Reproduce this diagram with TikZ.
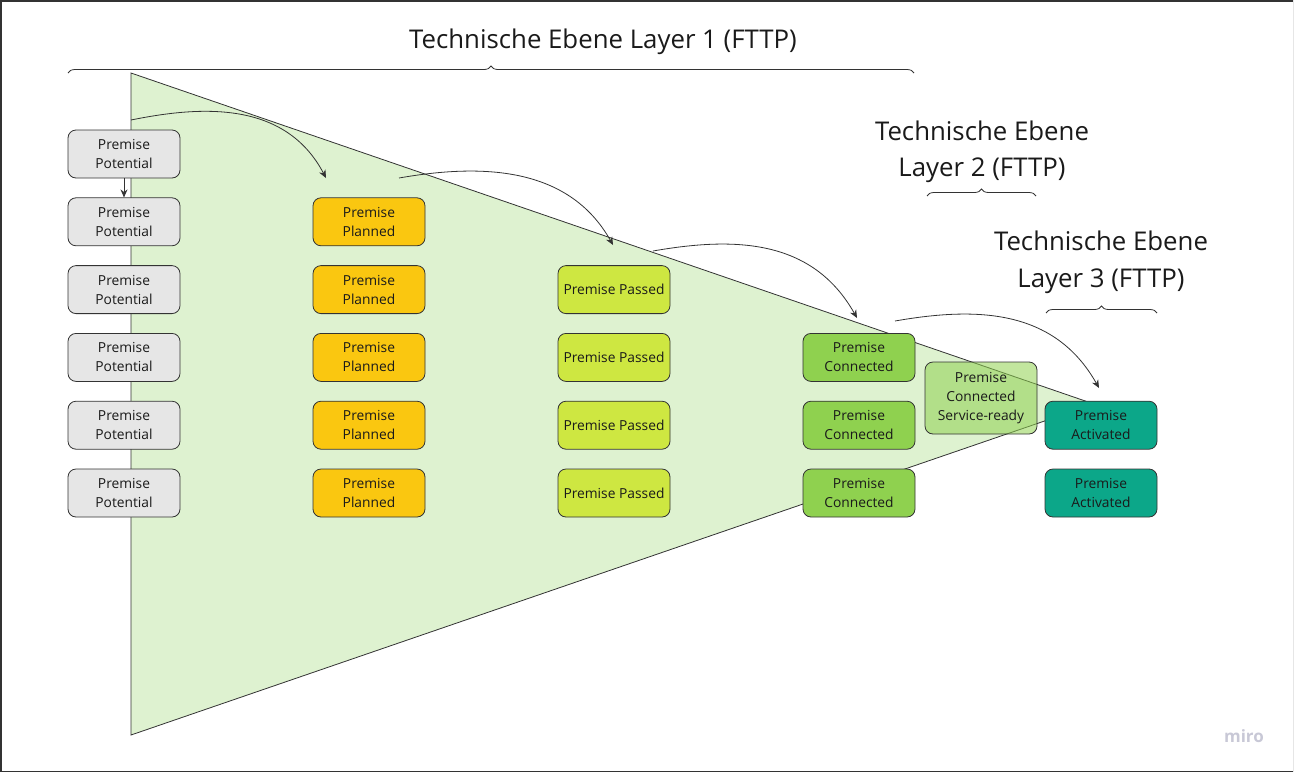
\documentclass[tikz,border=0pt]{standalone}
\usepackage{fontspec}
\setmainfont{Open Sans}
\usetikzlibrary{shapes,arrows.meta,positioning,decorations.pathreplacing}
\definecolor{potgray}{HTML}{E6E6E6}
\definecolor{plannedyellow}{HTML}{FAC710}
\definecolor{passedlime}{HTML}{CEE741}
\definecolor{connectedgreen}{HTML}{8FD14F}
\definecolor{activatedteal}{HTML}{0CA789}
\definecolor{funnelgreen}{HTML}{DEF2D0}
\definecolor{linedark}{HTML}{333333}
\definecolor{txtdark}{HTML}{1A1A1A}
\definecolor{mirogray}{HTML}{C8C8D6}
\def\Prem{Premise}

\begin{document}
\begin{tikzpicture}[x=1pt,y=-1pt,% pixel grid, y downwards
      every node/.style={
        align=center,     % so that "\\" works inside the boxes
        text=txtdark,
        font=\fontsize{13.8}{19}\selectfont
      },
      box/.style={rectangle,rounded corners=8pt,draw=linedark,line width=0.8pt,
        minimum width=112pt,minimum height=48pt,inner sep=0pt},
      potential/.style={box,fill=potgray},
      planned/.style={box,fill=plannedyellow},
      passed/.style={box,fill=passedlime},
      connected/.style={box,fill=connectedgreen},
      serviceready/.style={box,fill=connectedgreen,fill opacity=0.55,text opacity=1,
        minimum height=72pt},
      activated/.style={box,fill=activatedteal},
      layertitle/.style={font=\fontsize{25.8}{36.5}\selectfont},
      layerbrace/.style={draw=linedark,line width=0.8pt,
        decorate,decoration={brace,amplitude=7pt}},
      flow/.style={draw=linedark,line width=0.8pt,-{Stealth[length=8pt,width=7pt]}},
      node distance=19pt and 132.2pt
    ]
    \useasboundingbox (0,0) rectangle (1294,772);
    % frame
    \draw[linedark,line width=1.5pt] (0,0.75) -- (1294,0.75);
    \draw[linedark,line width=1.5pt] (0.75,0) -- (0.75,772);
    \draw[linedark,line width=1.5pt] (0,771.25) -- (1294,771.25);
    \draw[potgray,line width=1.5pt] (1293.25,0) -- (1293.25,772);

    % funnel
    \draw[fill=funnelgreen,draw=linedark,line width=0.8pt]
      (131,73) -- (1094,404) -- (131,735) -- cycle;

    % premise potential
    \node[potential](P1) at (124,154){\Prem\\Potential};
    \node[potential](P2)[below= of P1]{\Prem\\Potential};
    \node[potential](P3)[below= of P2]{\Prem\\Potential};
    \node[potential](P4)[below= of P3]{\Prem\\Potential};
    \node[potential](P5)[below= of P4]{\Prem\\Potential};
    \node[potential](P6)[below= of P5]{\Prem\\Potential};
    % premise planned
    \node[planned](L2)[right= of P2]{\Prem\\Planned};
    \node[planned](L3)[right= of P3]{\Prem\\Planned};
    \node[planned](L4)[right= of P4]{\Prem\\Planned};
    \node[planned](L5)[right= of P5]{\Prem\\Planned};
    \node[planned](L6)[right= of P6]{\Prem\\Planned};
    % premise passed
    \node[passed](S3)[right= of L3]{\Prem{} Passed};
    \node[passed](S4)[right= of L4]{\Prem{} Passed};
    \node[passed](S5)[right= of L5]{\Prem{} Passed};
    \node[passed](S6)[right= of L6]{\Prem{} Passed};
    % premise connected
    \node[connected](C4)[right= of S4]{\Prem\\Connected};
    \node[connected](C5)[right= of S5]{\Prem\\Connected};
    \node[connected](C6)[right= of S6]{\Prem\\Connected};
    \node[serviceready](CS) at (981,398){\Prem\\Connected\\Service-ready};
    % premise activated
    \node[activated](A5)[right=129.2pt of C5]{\Prem\\Activated};
    \node[activated](A6)[right=129.2pt of C6]{\Prem\\Activated};

    \path[flow] (P1) -- (P2);

    % stage arrows
    \coordinate (F1s) at (131,120);  \coordinate (F1e) at (326,178);
    \coordinate (F2s) at (399,178);  \coordinate (F2e) at (613,245);
    \coordinate (F3s) at (653,251);  \coordinate (F3e) at (857,318);
    \coordinate (F4s) at (895,321);  \coordinate (F4e) at (1099,388);
    \draw[flow] (F1s) .. controls +(69,-14) and +(-41,-78) .. (F1e);
    \draw[flow] (F2s) .. controls +(80,-14) and +(-45,-80) .. (F2e);
    \draw[flow] (F3s) .. controls +(80,-14) and +(-45,-80) .. (F3e);
    \draw[flow] (F4s) .. controls +(80,-14) and +(-45,-80) .. (F4e);

    % layers
    \node[layertitle](T1) at (603,42){Technische Ebene Layer 1 (FTTP)};
    \draw[layerbrace] (68,73) -- (914,73);
    \node[layertitle](T2) at (982,152){Technische Ebene\\Layer 2 (FTTP)};
    \draw[layerbrace] (927,196) -- (1036,196);
    \node[layertitle](T3) at (1101,262.5){Technische Ebene\\Layer 3 (FTTP)};
    \draw[layerbrace] (1046,313) -- (1157,313);

    \node[text=mirogray,font=\fontsize{17}{17}\selectfont\bfseries](logo) at (1244,736){miro};
  \end{tikzpicture}
\end{document}
